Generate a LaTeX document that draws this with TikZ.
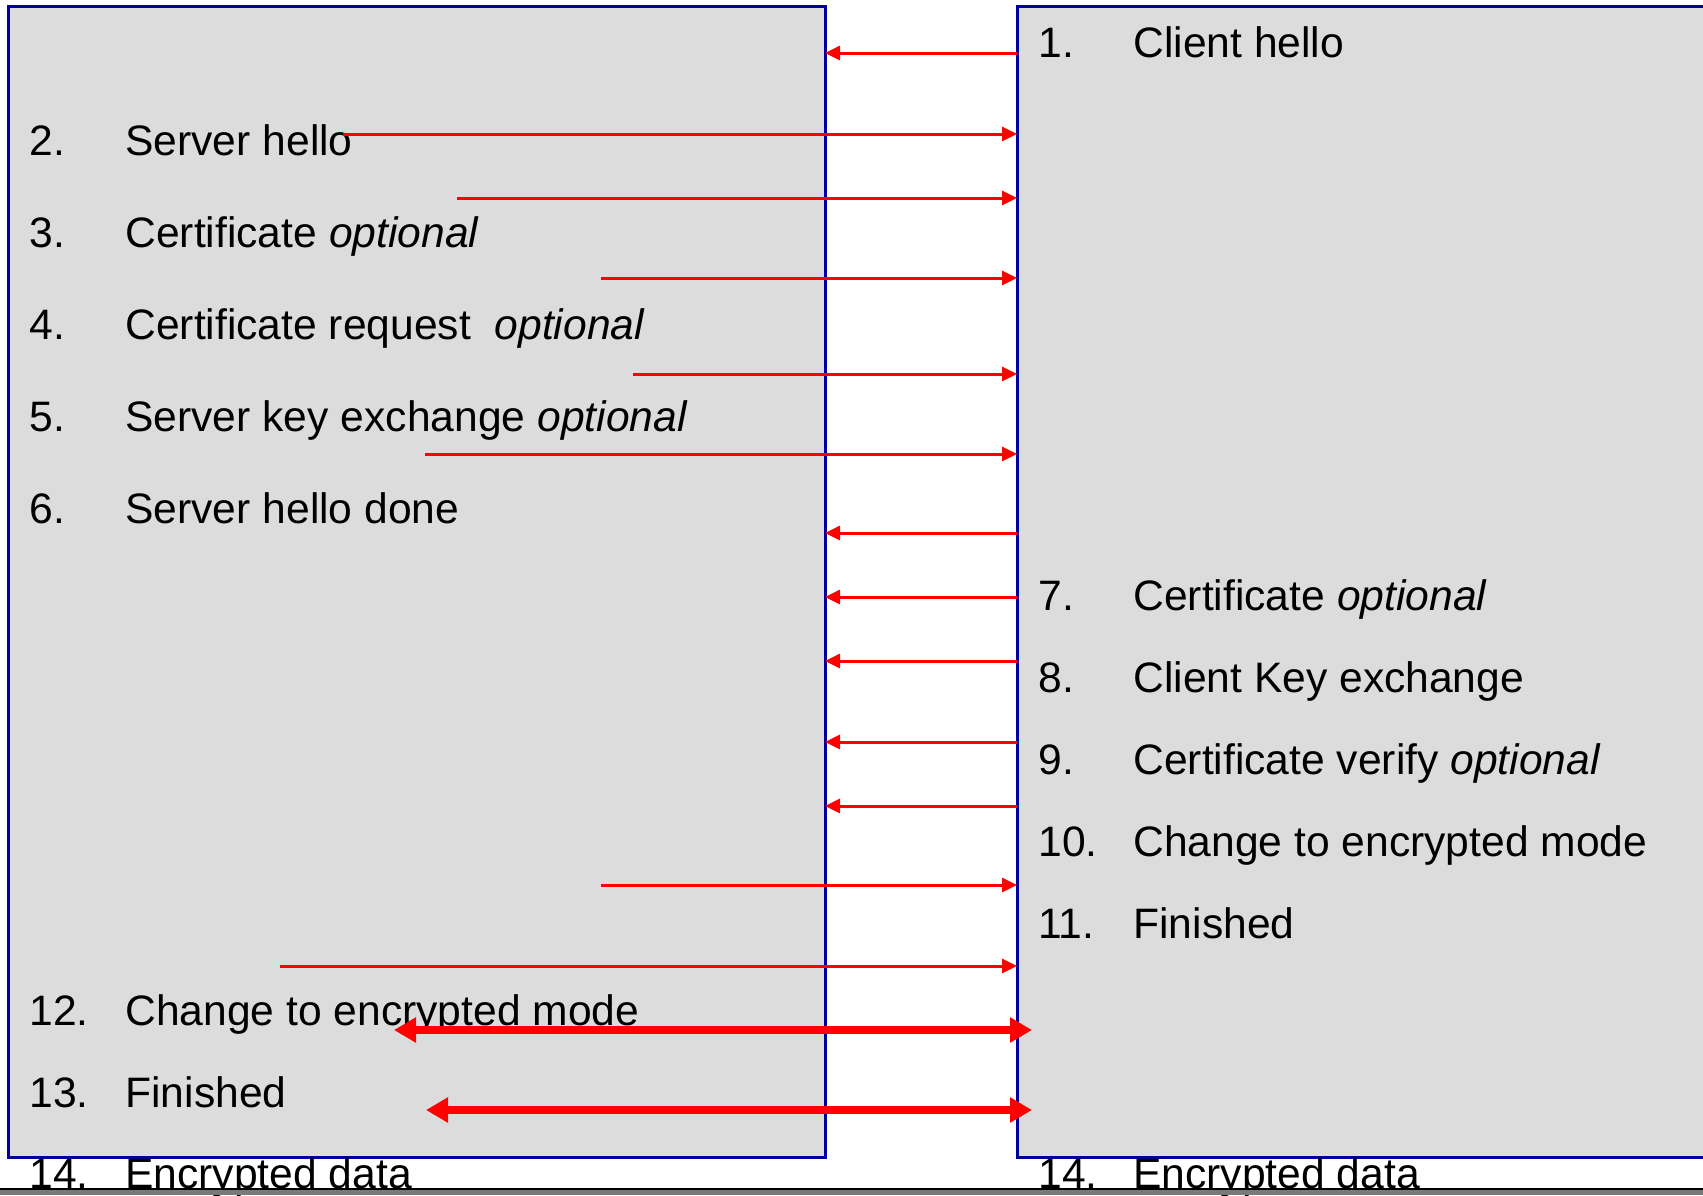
\documentclass[tikz,border=0pt]{standalone}
\usepackage{fontspec}
\setmainfont{Liberation Sans}
\usetikzlibrary{arrows.meta}
\definecolor{boxfill}{HTML}{DCDCDC}
\definecolor{boxline}{HTML}{0000A0}
\definecolor{barfill}{HTML}{7A7A7A}
\begin{document}
\begin{tikzpicture}[x=0.5pt,y=-0.5pt,
  party/.style={draw=boxline, fill=boxfill, line width=1.5pt, anchor=north west, inner sep=0pt, outer sep=0pt},
  txt/.style={anchor=base west, inner sep=0pt, font=\fontsize{21.3}{25}\selectfont},
  thinmsg/.style={draw=red, line width=1.5pt, -{Triangle[length=7.5pt,width=7pt]}},
  thickmsg/.style={draw=red, line width=3.6pt, {Triangle[length=11pt,width=12pt]}-{Triangle[length=11pt,width=12pt]}}
]
\clip (0,0) rectangle (1703,1195);
\fill[white] (0,0) rectangle (1703,1195);
% parties
\node[party, minimum width=408.5pt, minimum height=575.5pt] (S) at (8,6) {};
\node[party, minimum width=360pt, minimum height=575.5pt] (C) at (1017,6) {};
% texts, server side
\node[txt] (n2) at (29,155) {2.};   \node[txt] (t2) at (125,155) {Server hello};
\node[txt] (n3) at (29,247) {3.};   \node[txt] (t3) at (125,247) {Certificate \textit{optional}};
\node[txt] (n4) at (29,339) {4.};   \node[txt] (t4) at (125,339) {Certificate request\ \ \textit{optional}};
\node[txt] (n5) at (29,431) {5.};   \node[txt] (t5) at (125,431) {Server key exchange \textit{optional}};
\node[txt] (n6) at (29,523) {6.};   \node[txt] (t6) at (125,523) {Server hello done};
\node[txt] (n12) at (29,1025) {12.}; \node[txt] (t12) at (125,1025) {Change to encrypted mode};
\node[txt] (n13) at (29,1107) {13.}; \node[txt] (t13) at (125,1107) {Finished};
\node[txt] (n14) at (29,1188) {14.}; \node[txt] (t14) at (125,1188) {Encrypted data};
% texts, client side
\node[txt] (n1) at (1038,57) {1.};   \node[txt] (t1) at (1133,57) {Client hello};
\node[txt] (n7) at (1038,610) {7.};  \node[txt] (t7) at (1133,610) {Certificate \textit{optional}};
\node[txt] (n8) at (1038,692) {8.};  \node[txt] (t8) at (1133,692) {Client Key exchange};
\node[txt] (n9) at (1038,774) {9.};  \node[txt] (t9) at (1133,774) {Certificate verify \textit{optional}};
\node[txt] (n10) at (1038,856) {10.}; \node[txt] (t10) at (1133,856) {Change to encrypted mode};
\node[txt] (n11) at (1038,938) {11.}; \node[txt] (t11) at (1133,938) {Finished};
\node[txt] (n14c) at (1038,1188) {14.}; \node[txt] (t14c) at (1133,1188) {Encrypted data};
% messages client -> server
\coordinate (m1) at (0,53);
\coordinate (m7) at (0,533);
\coordinate (m8) at (0,597);
\coordinate (m9) at (0,661);
\coordinate (m10) at (0,742);
\coordinate (m11) at (0,806);
\foreach \m in {m1,m7,m8,m9,m10,m11}
  \draw[thinmsg] (C.west |- \m) -- (S.east |- \m);
% messages server -> client
\coordinate (m2) at (343,134);
\coordinate (m3) at (457,198);
\coordinate (m4) at (601,278);
\coordinate (m5) at (633,374);
\coordinate (m6) at (425,454);
\coordinate (m12) at (601,885);
\coordinate (m13) at (280,966);
\foreach \m in {m2,m3,m4,m5,m6,m12,m13}
  \draw[thinmsg] (\m) -- (\m -| C.west);
% encrypted exchange
\coordinate (e1a) at (394,1030); \coordinate (e1b) at (1032,1030);
\coordinate (e2a) at (426,1110); \coordinate (e2b) at (1032,1110);
\draw[thickmsg] (e1a) -- (e1b);
\draw[thickmsg] (e2a) -- (e2b);
% bottom bar
\fill[barfill] (0,1189) rectangle (1703,1195);
\draw[black, line width=1pt] (0,1189) -- (1703,1189);
\end{tikzpicture}
\end{document}
